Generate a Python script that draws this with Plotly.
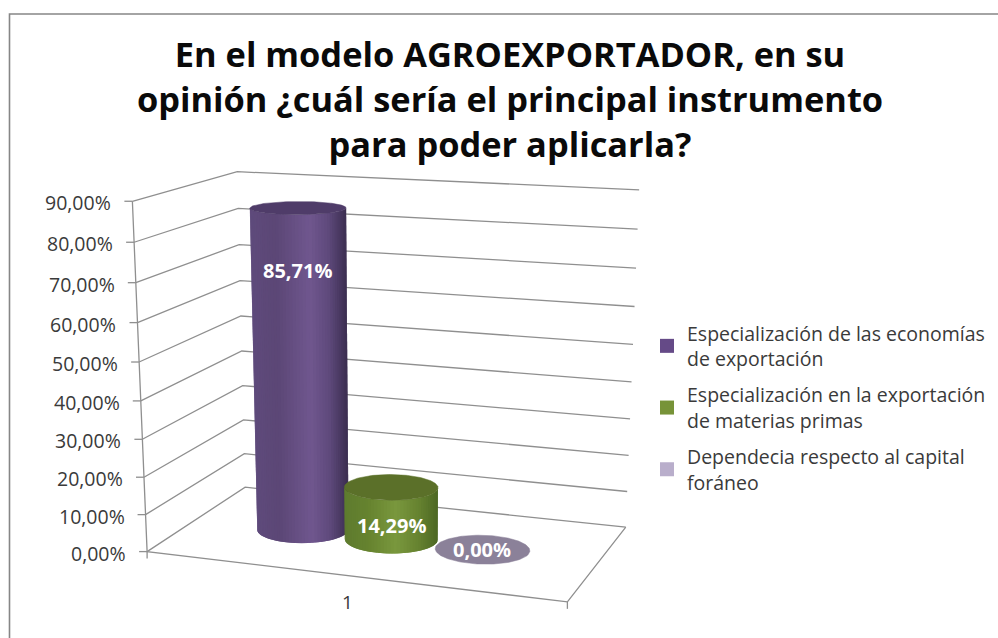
import numpy as np
import plotly.graph_objects as go

# ---- data ----
series_names = ["Especialización de las economías<br>de exportación",
                "Especialización en la exportación<br>de materias primas",
                "Dependecia respecto al capital<br>foráneo"]
series_values = [85.71, 14.29, 0.0]
value_labels = ["85,71%", "14,29%", "0,00%"]
category_labels = ["1"]
tick_values = [0, 10, 20, 30, 40, 50, 60, 70, 80, 90]
tick_labels = ["0,00%", "10,00%", "20,00%", "30,00%", "40,00%", "50,00%",
               "60,00%", "70,00%", "80,00%", "90,00%"]
title_lines = ["En el modelo AGROEXPORTADOR, en su",
               "opinión ¿cuál sería el principal instrumento",
               "para poder aplicarla?"]

# ---- styles ----
FONT = "Open Sans"
LINE = "#8f8f8f"
TEXT = "#3a3a3a"
legend_colors = ["#654a87", "#779338", "#b9aecb"]
cap_colors = ["#4f3c69", "#5b7029", "#8b8199"]
side_stops = [
    [(0.0, "#5f4b7c"), (0.25, "#5c4776"), (0.6, "#70578f"), (0.8, "#5f4a7c"), (1.0, "#3b2e50")],
    [(0.0, "#5f7c2f"), (0.25, "#66832f"), (0.55, "#7a983e"), (0.8, "#668230"), (1.0, "#4d6824")],
    [(0.0, "#8b8199"), (1.0, "#8b8199")],
]
label_drop = [63, 38, 0]
Vmax = 90.0

# ---- projection of the 3D box (u along category, w depth, v value) ----
box = [((0, 0, 0), (147, 552)), ((0, 0, 90), (132, 201)), ((0, 0, 50), (140, 361.7)),
       ((0, 1, 0), (245, 487)), ((0, 1, 90), (237, 172)), ((0, 1, 50), (241, 316)),
       ((1, 1, 0), (626, 527)), ((1, 1, 90), (639.3, 190)), ((1, 1, 50), (633, 344.3)),
       ((1, 0, 0), (567, 602))]
A = []
for (u, w, v), (px, py) in box:
    z = v / Vmax
    A.append([u, w, z, 1, 0, 0, 0, 0, -px * u, -px * w, -px * z, -px])
    A.append([0, 0, 0, 0, u, w, z, 1, -py * u, -py * w, -py * z, -py])
H = np.linalg.svd(np.array(A, float))[2][-1].reshape(3, 4)


def project(u, w, v):
    u, w, v = np.broadcast_arrays(np.asarray(u, float), np.asarray(w, float), np.asarray(v, float))
    q = H @ np.vstack([u.ravel(), w.ravel(), v.ravel() / Vmax, np.ones(u.size)])
    return q[0] / q[2], q[1] / q[2]


def hex2rgb(c):
    return np.array([int(c[i:i + 2], 16) for i in (1, 3, 5)], float)


def grad(stops, t):
    ts = [s[0] for s in stops]
    rgb = [np.interp(t, ts, [hex2rgb(s[1])[k] for s in stops]) for k in range(3)]
    return "rgb(%d,%d,%d)" % tuple(rgb)


fig = go.Figure()


def line(xs, ys, width=1.3):
    fig.add_trace(go.Scatter(x=xs, y=ys, mode="lines", line=dict(color=LINE, width=width),
                             hoverinfo="skip", showlegend=False))


# gridlines on both walls, floor and axis
for t in tick_values:
    x, y = project([0, 0, 1], [0, 1, 1], [t, t, t])
    line(x, y)
x, y = project([1, 1, 0, 0], [1, 0, 0, 0], [0, 0, 0, tick_values[-1]])
line(x, y)

# value-axis ticks and labels
annotations = []
for t, lab in zip(tick_values, tick_labels):
    x, y = project(0, 0, t)
    line([x[0] - 8, x[0]], [y[0], y[0]])
    annotations.append(dict(x=x[0] - 19, y=y[0] + 1.5, text=lab, xanchor="right", yanchor="middle",
                            showarrow=False, font=dict(family=FONT, size=19.5, color=TEXT)))
# category ticks and label
for u in (0, 1):
    x, y = project(u, 0, 0)
    line([x[0], x[0]], [y[0], y[0] + 7])
x, y = project(0.5, 0, 0)
annotations.append(dict(x=x[0] - 2, y=y[0] + 26, text=category_labels[0], showarrow=False,
                        font=dict(family=FONT, size=19, color=TEXT)))

# cylinders
centers_u = [0.275, 0.5, 0.725]
RU, RW = 0.11, 0.19
theta = np.linspace(0, 2 * np.pi, 181)


def ellipse(cu, v):
    return project(cu + RU * np.cos(theta), 0.5 + RW * np.sin(theta), v)


def front_arc(ex, ey):
    n = len(ex) - 1
    il, ir = int(np.argmin(ex[:n])), int(np.argmax(ex[:n]))
    # walk from the leftmost to the rightmost point along the lower (front) side
    step = 1 if ey[(il + 1) % n] > ey[(il - 1) % n] else -1
    idx = [il]
    while idx[-1] != ir:
        idx.append((idx[-1] + step) % n)
    return ex[idx], ey[idx]


N = 44
for i, val in enumerate(series_values):
    cu = centers_u[i]
    bx, by = ellipse(cu, 0)
    tx, ty = ellipse(cu, val)
    if val > 0:
        fbx, fby = front_arc(bx, by)
        ftx, fty = front_arc(tx, ty)
        sb = np.linspace(0, len(fbx) - 1, N + 1)
        st = np.linspace(0, len(ftx) - 1, N + 1)
        for k in range(N):
            b0, b1 = int(sb[k]), int(sb[min(k + 2, N)])
            t0, t1 = int(st[k]), int(st[min(k + 2, N)])
            xmid = (fbx[int(sb[k])] + fbx[int(sb[k + 1])]) / 2
            t = (xmid - fbx.min()) / (fbx.max() - fbx.min())
            c = grad(side_stops[i], t)
            px = np.r_[fbx[b0:b1 + 1], ftx[t0:t1 + 1][::-1], fbx[b0]]
            py = np.r_[fby[b0:b1 + 1], fty[t0:t1 + 1][::-1], fby[b0]]
            fig.add_trace(go.Scatter(x=px, y=py, mode="lines", fill="toself", fillcolor=c,
                                     line=dict(color=c, width=0),
                                     hoverinfo="skip", showlegend=False))
    fig.add_trace(go.Scatter(x=tx, y=ty, mode="lines", fill="toself", fillcolor=cap_colors[i],
                             line=dict(color=cap_colors[i], width=0.5),
                             hoverinfo="skip", showlegend=False))
    cx, cy = project(cu, 0.5, val)
    annotations.append(dict(x=cx[0], y=cy[0] + label_drop[i], text="<b>%s</b>" % value_labels[i],
                            showarrow=False, font=dict(family=FONT, size=20, color="white")))

# legend entries
for i, name in enumerate(series_names):
    fig.add_trace(go.Scatter(x=[None], y=[None], mode="markers", name=name, legendgroup=str(i),
                             marker=dict(symbol="square", size=14, color=legend_colors[i])))

title_text = "<br>".join('<span style="font-size:34.4px">%s</span>' % s for s in title_lines)
fig.update_layout(
    width=998, height=638, margin=dict(l=0, r=0, t=0, b=0),
    paper_bgcolor="white", plot_bgcolor="white",
    xaxis=dict(range=[0, 998], visible=False, fixedrange=True),
    yaxis=dict(range=[638, 0], visible=False, fixedrange=True),
    title=dict(text=title_text, x=510 / 998, xanchor="center", y=1 - 67 / 638, yanchor="top",
               font=dict(family=FONT, size=34.6, color="#0a0a0a", weight="bold")),
    legend=dict(x=647 / 998, y=1 - 314 / 638, xanchor="left", yanchor="top", tracegroupgap=8,
                font=dict(family=FONT, size=19.5, color=TEXT), bgcolor="rgba(0,0,0,0)"),
    annotations=annotations,
    shapes=[dict(type="path", xref="paper", yref="paper",
                 path="M %f 0 L %f %f L 1 %f" % (9.5 / 998, 9.5 / 998, 1 - 14 / 638, 1 - 14 / 638),
                 line=dict(color="#868686", width=1.6))],
)
fig.write_html("out.html", config={"displayModeBar": False},
               post_script="document.body.style.margin='0';")
